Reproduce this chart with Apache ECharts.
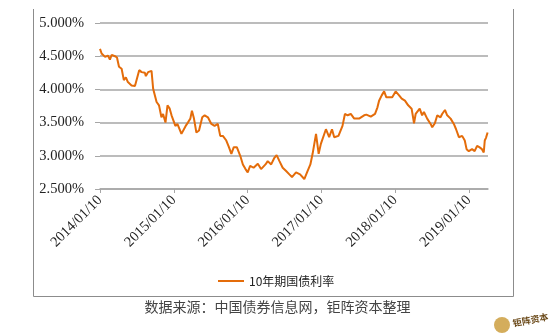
<!DOCTYPE html>
<html><head><meta charset="utf-8">
<script src="https://cdn.jsdelivr.net/npm/echarts@6/dist/echarts.min.js"></script>
<style>html,body{margin:0;padding:0;background:#fff}#c{width:555px;height:333px}</style>
</head><body><div id="c"></div>
<script>
const seriesName = '10年期国债利率';
const dates = ['2014-01-10','2014-01-18','2014-02-04','2014-02-18','2014-02-28','2014-03-09','2014-03-25','2014-04-04','2014-04-14','2014-04-27','2014-05-08','2014-05-18','2014-05-28','2014-06-15','2014-07-02','2014-07-10','2014-07-23','2014-08-04','2014-08-20','2014-08-25','2014-09-05','2014-09-22','2014-09-30','2014-10-08','2014-10-17','2014-10-29','2014-11-10','2014-11-18','2014-11-30','2014-12-10','2014-12-21','2014-12-30','2015-01-07','2015-01-18','2015-01-28','2015-02-17','2015-02-25','2015-03-10','2015-03-21','2015-04-02','2015-04-10','2015-04-20','2015-05-02','2015-05-15','2015-05-22','2015-05-31','2015-06-12','2015-06-28','2015-07-15','2015-07-31','2015-08-16','2015-08-28','2015-09-10','2015-09-27','2015-10-10','2015-10-22','2015-11-03','2015-11-18','2015-12-05','2015-12-18','2015-12-31','2016-01-11','2016-01-23','2016-02-09','2016-03-01','2016-03-17','2016-04-08','2016-04-19','2016-05-06','2016-05-22','2016-06-02','2016-06-16','2016-07-02','2016-07-19','2016-08-04','2016-08-17','2016-09-06','2016-09-26','2016-10-17','2016-11-02','2016-11-16','2016-11-27','2016-12-14','2016-12-27','2017-01-07','2017-02-01','2017-02-17','2017-03-03','2017-03-14','2017-04-04','2017-04-24','2017-05-06','2017-05-19','2017-06-04','2017-06-21','2017-07-15','2017-08-09','2017-08-20','2017-09-11','2017-10-02','2017-10-14','2017-10-22','2017-11-04','2017-11-16','2017-11-27','2017-12-14','2017-12-26','2018-01-12','2018-01-29','2018-02-11','2018-02-27','2018-03-15','2018-04-01','2018-04-13','2018-04-21','2018-05-11','2018-05-23','2018-06-01','2018-06-17','2018-07-04','2018-07-12','2018-07-25','2018-08-06','2018-08-22','2018-08-30','2018-09-13','2018-09-24','2018-10-11','2018-10-27','2018-11-07','2018-11-21','2018-12-07','2018-12-20','2018-12-29','2019-01-09','2019-01-25','2019-02-07','2019-02-19','2019-03-02','2019-03-15','2019-03-24','2019-03-29','2019-04-04','2019-04-12'];
const yields = [4.61,4.54,4.49,4.51,4.45,4.52,4.50,4.48,4.34,4.31,4.14,4.18,4.11,4.06,4.05,4.14,4.29,4.26,4.25,4.20,4.26,4.28,4.01,3.98,3.81,3.76,3.58,3.63,3.50,3.76,3.71,3.61,3.61,3.45,3.48,3.33,3.35,3.45,3.50,3.56,3.68,3.56,3.35,3.38,3.40,3.58,3.61,3.58,3.48,3.45,3.48,3.30,3.30,3.23,3.13,3.03,3.13,3.13,3.00,2.87,2.80,2.75,2.85,2.82,2.88,2.80,2.87,2.92,2.87,2.97,3.01,2.92,2.82,2.77,2.72,2.68,2.75,2.72,2.65,2.77,2.87,3.03,3.33,3.03,3.18,3.40,3.28,3.40,3.28,3.30,3.45,3.63,3.61,3.63,3.56,3.56,3.61,3.62,3.59,3.63,3.73,3.83,3.91,3.97,3.88,3.88,3.88,3.97,3.91,3.86,3.83,3.76,3.71,3.49,3.63,3.71,3.61,3.66,3.56,3.48,3.43,3.49,3.61,3.58,3.63,3.69,3.61,3.56,3.48,3.40,3.28,3.30,3.23,3.10,3.07,3.10,3.07,3.15,3.13,3.10,3.05,3.23,3.27,3.35];
const xTickLabels = ['2014/01/10','2015/01/10','2016/01/10','2017/01/10','2018/01/10','2019/01/10'];
const yMin = 2.5, yMax = 5.0, yStep = 0.5;
const sourceText = '数据来源：中国债券信息网，钜阵资本整理';
const logoText = '钜阵资本';

const t0 = Date.UTC(2014,0,10);
const yearMs = 365.25*86400000;
const toYears = s => { const p = s.split('-'); return (Date.UTC(+p[0],+p[1]-1,+p[2]) - t0)/yearMs; };
const seriesData = dates.map((d,i)=>[toYears(d), yields[i]]);
const xMax = toYears('2019-04-14');

const serif = '"Liberation Serif","DejaVu Serif",serif';
const chart = echarts.init(document.getElementById('c'));
chart.setOption({
  animation:false,
  backgroundColor:'#fff',
  grid:{left:100,right:67,top:23,bottom:144},
  legend:{data:[seriesName],left:213,top:270,icon:'rect',itemWidth:26,itemHeight:2,itemGap:4,
    textStyle:{fontFamily:'"Noto Sans CJK SC",sans-serif',fontSize:12,color:'#222'}},
  xAxis:{type:'value',min:0,max:xMax,interval:1,
    axisLine:{show:true,lineStyle:{color:'#a6a6a6',width:1.5}},
    axisTick:{show:true,length:4,lineStyle:{color:'#a6a6a6'}},
    splitLine:{show:false},
    axisLabel:{rotate:45,fontFamily:serif,fontSize:14.5,color:'#222',margin:9,showMaxLabel:false,
      formatter:v=>{const i=Math.round(v);return (Math.abs(v-i)<1e-6 && xTickLabels[i])?xTickLabels[i]:'';}}},
  yAxis:{type:'value',min:yMin,max:yMax,interval:yStep,
    axisLine:{show:false},
    axisTick:{show:true,length:5,lineStyle:{color:'#a6a6a6'}},
    splitLine:{lineStyle:{color:'#a6a6a6',width:1.5}},
    axisLabel:{fontFamily:serif,fontSize:14.5,color:'#222',margin:16,formatter:v=>v.toFixed(3)+'%'}},
  series:[{name:seriesName,type:'line',data:seriesData,showSymbol:false,
    lineStyle:{color:'#e46c0a',width:2},itemStyle:{color:'#e46c0a'}}],
  graphic:[
    {type:'polyline',shape:{points:[[33.5,9],[33.5,296.5],[513.5,296.5],[513.5,9]]},style:{stroke:'#8c8c8c',lineWidth:1,fill:null}},
    {type:'text',left:'center',top:300,style:{text:sourceText,font:'14px "Noto Sans CJK SC",sans-serif',fill:'#444'}},
    {type:'circle',shape:{cx:502,cy:325,r:8},style:{fill:'#d4ad5c'}},
    {type:'text',x:512,y:319,rotation:0.2,style:{text:logoText,font:'bold 9px "Noto Sans CJK SC",sans-serif',fill:'#6b4a1a'}}
  ]
});
</script></body></html>
